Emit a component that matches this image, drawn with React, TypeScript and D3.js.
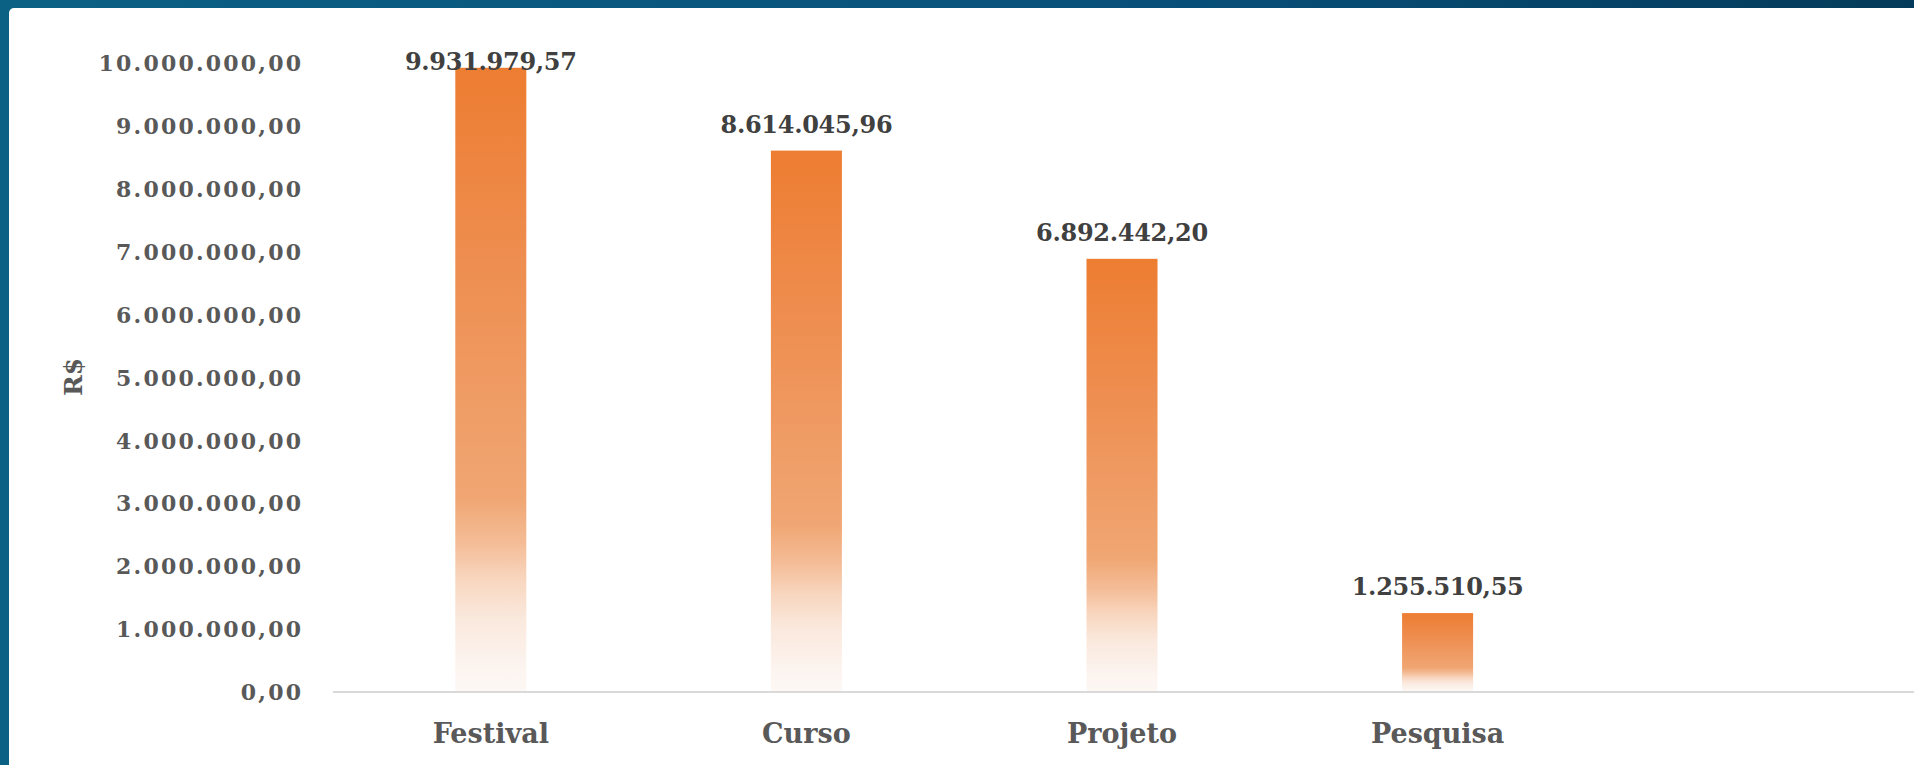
import React from "react";
import * as d3 from "d3";

const categories: string[] = ["Festival", "Curso", "Projeto", "Pesquisa"];
const values: number[] = [9931979.57, 8614045.96, 6892442.2, 1255510.55];
const yTicks: number[] = [0, 1e6, 2e6, 3e6, 4e6, 5e6, 6e6, 7e6, 8e6, 9e6, 10e6];
const yTitle = "R$";

const W = 1914;
const H = 765;

const locale = d3.formatLocale({
  decimal: ",",
  thousands: ".",
  grouping: [3],
  currency: ["R$", ""],
});
const fmt = locale.format(",.2f");

export default function App() {
  const y = d3.scaleLinear().domain([0, 10e6]).range([692, 63.5]);
  const x = d3
    .scaleBand<string>()
    .domain([...categories, ""])
    .range([333, 1911])
    .paddingInner(0.775)
    .paddingOuter(0.3875);

  const font = "'DejaVu Serif', serif";
  const tickLS = 2.2;

  return (
    <svg
      width={W}
      height={H}
      style={{ position: "absolute", left: 0, top: 0, display: "block" }}
      xmlns="http://www.w3.org/2000/svg"
    >
      <defs>
        <linearGradient id="bg" x1="0" y1="0" x2="1" y2="0">
          <stop offset="0" stopColor="#0B6184" />
          <stop offset="0.6" stopColor="#08507A" />
          <stop offset="1" stopColor="#053B5A" />
        </linearGradient>
        <linearGradient id="barGrad" x1="0" y1="0" x2="0" y2="1">
          <stop offset="0" stopColor="#ED7D31" />
          <stop offset="0.3" stopColor="#EE8D4F" />
          <stop offset="0.69" stopColor="#F0A673" />
          <stop offset="0.76" stopColor="#F4BC96" />
          <stop offset="0.82" stopColor="#F8D6BF" />
          <stop offset="0.88" stopColor="#FAE8DC" />
          <stop offset="0.95" stopColor="#FCF3EE" />
          <stop offset="1" stopColor="#FDF8F5" />
        </linearGradient>
      </defs>
      <rect x={0} y={0} width={W} height={H} fill="url(#bg)" />
      <rect x={9} y={8} width={W + 20} height={H + 20} rx={5} fill="#FFFFFF" />

      {/* y tick labels */}
      <g fontFamily={font} fontWeight="bold" fontSize={22} fill="#595959">
        {yTicks.map((t) => (
          <text
            key={t}
            x={301 + tickLS}
            y={y(t)}
            dy="0.36em"
            textAnchor="end"
            letterSpacing={tickLS}
          >
            {fmt(t)}
          </text>
        ))}
      </g>

      {/* y title */}
      <text
        transform={`translate(82, ${377}) rotate(-90)`}
        textAnchor="middle"
        fontFamily={font}
        fontWeight="bold"
        fontSize={25}
        fill="#595959"
      >
        {yTitle}
      </text>

      {/* bars */}
      {categories.map((c, i) => (
        <rect
          key={c}
          x={x(c)}
          y={y(values[i])}
          width={x.bandwidth()}
          height={y(0) - y(values[i])}
          fill="url(#barGrad)"
        />
      ))}

      {/* axis line */}
      <line x1={333} x2={W} y1={y(0)} y2={y(0)} stroke="#D9D9D9" strokeWidth={2} />

      {/* data labels */}
      <g fontFamily={font} fontWeight="bold" fontSize={24} fill="#404040">
        {categories.map((c, i) => (
          <text
            key={c}
            x={(x(c) as number) + x.bandwidth() / 2}
            y={Math.max(y(values[i]) - 18, 70)}
            textAnchor="middle"
            letterSpacing={-0.3}
          >
            {fmt(values[i])}
          </text>
        ))}
      </g>

      {/* x labels */}
      <g fontFamily={font} fontWeight="bold" fontSize={27} fill="#595959">
        {categories.map((c) => (
          <text
            key={c}
            x={(x(c) as number) + x.bandwidth() / 2}
            y={743}
            textAnchor="middle"
          >
            {c}
          </text>
        ))}
      </g>
    </svg>
  );
}
